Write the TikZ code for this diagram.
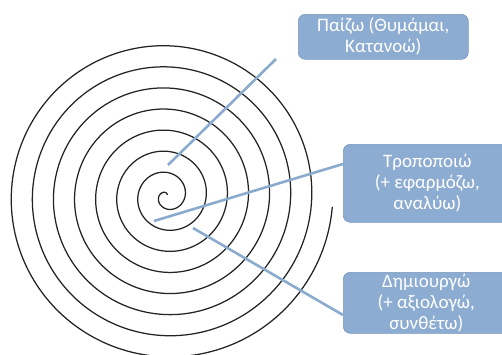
\documentclass[tikz,border=0pt]{standalone}
\usepackage{fontspec}
\setmainfont{Carlito}
\usetikzlibrary{calc}
\definecolor{boxfill}{RGB}{141,172,209}
\definecolor{boxedge}{RGB}{120,150,190}
\definecolor{linkblue}{RGB}{138,171,205}
\definecolor{spiralgray}{RGB}{35,35,35}
\begin{document}
\begin{tikzpicture}[x=1pt,y=-1pt,
  infobox/.style={draw=boxedge, line width=0.6pt, fill=boxfill, rounded corners=7pt,
    text=white, align=center, inner sep=0pt, anchor=north west,
    font=\fontsize{19}{21}\selectfont},
  link/.style={draw=linkblue, line width=2.6pt},
  spiralline/.style={draw=spiralgray, line width=1.25pt}]
\useasboundingbox (0,0) rectangle (502,354);
\clip (0,0) rectangle (502,354);
\draw[spiralline] plot[domain=1.2:50.21, samples=900, variable=\t, smooth]
  ({166.8 + (3.36*\t - 2.8)*cos(\t r)}, {196 - (3.36*\t - 2.8)*sin(\t r)});
\node[infobox, minimum width=170pt, minimum height=45pt] (b1) at (298,14)
  {Παίζω (Θυμάμαι,\\Κατανοώ)};
\node[infobox, minimum width=168pt, minimum height=78pt] (b2) at (343,144)
  {Τροποποιώ\\(+ εφαρμόζω,\\αναλύω)};
\node[infobox, minimum width=166pt, minimum height=61pt] (b3) at (343,272)
  {Δημιουργώ\\(+ αξιολογώ,\\συνθέτω)};
\coordinate (e1) at (276,59);
\coordinate (s1) at (168,165);
\coordinate (s2) at (154,221);
\coordinate (s3) at (193,228);
\coordinate (y2) at (0,164);
\coordinate (y3) at (0,315);
\draw[link] (e1) -- (s1);
\draw[link] (b2.west |- y2) -- (s2);
\draw[link] (b3.west |- y3) -- (s3);
\end{tikzpicture}
\end{document}
